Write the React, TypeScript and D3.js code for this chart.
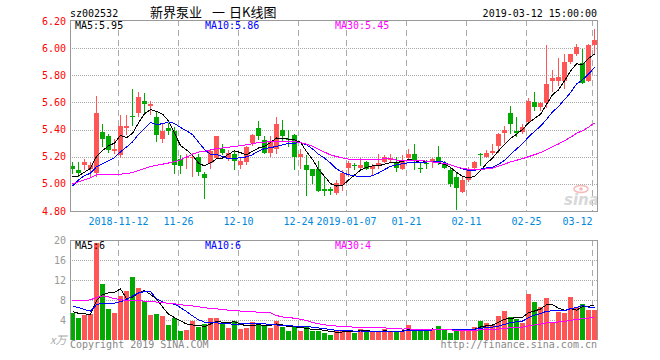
import React from "react";
import * as d3 from "d3";

// closes / volumes before the first visible day (only used to warm up the moving averages)
const warmupCloses = [4.65, 4.70, 4.75, 4.80, 5.25, 5.30, 5.32, 5.28, 5.30, 5.27, 5.20, 5.15, 5.12, 5.10, 5.15, 5.12, 4.85, 4.70, 4.60, 4.58, 4.62, 4.85, 4.95, 5.05, 5.10, 5.05, 5.02, 5.00, 5.08];
const warmupVolumes = [3.0, 3.2, 2.8, 3.5, 3.0, 12, 16, 15, 14, 16, 10, 9, 8, 8, 7, 9, 7, 7, 6, 7, 8, 9, 8, 7, 8, 6, 5.5, 6, 5.5];

const opens = [
  5.13, 5.10, 5.14, 5.11, 5.08, 5.38, 5.35, 5.24, 5.21, 5.41,
  5.50, 5.52, 5.61, 5.57, 5.49, 5.33, 5.41, 5.39, 5.18, 5.19,
  5.19, 5.20, 5.07, 5.15, 5.19, 5.26, 5.19, 5.22, 5.14, 5.16,
  5.30, 5.41, 5.32, 5.23, 5.26, 5.40, 5.33, 5.36, 5.20, 5.14,
  5.11, 5.11, 4.96, 4.96, 4.93, 4.99, 5.12, 5.14, 5.115, 5.16,
  5.11, 5.13, 5.16, 5.175, 5.155, 5.11, 5.19, 5.22, 5.12, 5.155,
  5.16, 5.20, 5.15, 5.10, 5.05, 4.94, 5.03, 5.12, 5.22, 5.20,
  5.23, 5.28, 5.375, 5.52, 5.39, 5.38, 5.455, 5.60, 5.565, 5.595,
  5.76, 5.76, 5.76, 5.90, 5.955, 5.89, 5.76, 6.02,
];
const highs = [
  5.16, 5.16, 5.18, 5.16, 5.65, 5.44, 5.37, 5.33, 5.51, 5.51,
  5.70, 5.68, 5.67, 5.61, 5.53, 5.44, 5.45, 5.42, 5.21, 5.22,
  5.23, 5.22, 5.09, 5.26, 5.35, 5.29, 5.25, 5.25, 5.19, 5.28,
  5.37, 5.46, 5.35, 5.35, 5.49, 5.47, 5.40, 5.37, 5.26, 5.21,
  5.11, 5.17, 5.05, 4.98, 5.03, 5.10, 5.17, 5.155, 5.19, 5.17,
  5.145, 5.22, 5.21, 5.22, 5.20, 5.21, 5.26, 5.29, 5.16, 5.175,
  5.19, 5.28, 5.17, 5.125, 5.08, 5.05, 5.125, 5.17, 5.225, 5.25,
  5.29, 5.375, 5.43, 5.57, 5.49, 5.44, 5.63, 5.68, 5.60, 6.025,
  5.84, 5.93, 5.96, 5.96, 6.034, 5.99, 6.03, 6.14,
];
const lows = [
  5.07, 5.05, 5.10, 5.05, 5.05, 5.27, 5.23, 5.22, 5.19, 5.36,
  5.43, 5.49, 5.52, 5.51, 5.31, 5.30, 5.36, 5.07, 5.07, 5.11,
  5.05, 5.06, 4.89, 5.11, 5.18, 5.21, 5.17, 5.10, 5.11, 5.14,
  5.28, 5.32, 5.22, 5.20, 5.22, 5.31, 5.27, 5.10, 5.11, 4.91,
  5.00, 4.94, 4.91, 4.92, 4.92, 4.95, 5.05, 5.10, 5.10, 5.10,
  5.06, 5.11, 5.15, 5.15, 5.09, 5.10, 5.17, 5.10, 5.08, 5.11,
  5.115, 5.14, 5.11, 4.98, 4.81, 4.93, 5.015, 5.11, 5.13, 5.19,
  5.21, 5.225, 5.30, 5.37, 5.345, 5.37, 5.44, 5.54, 5.54, 5.56,
  5.675, 5.72, 5.70, 5.88, 5.94, 5.735, 5.75, 5.95,
];
const closes = [
  5.11, 5.08, 5.16, 5.14, 5.52, 5.33, 5.25, 5.26, 5.43, 5.43,
  5.49, 5.64, 5.59, 5.59, 5.36, 5.39, 5.39, 5.14, 5.13, 5.20,
  5.20, 5.09, 5.04, 5.24, 5.35, 5.23, 5.23, 5.17, 5.17, 5.27,
  5.36, 5.35, 5.23, 5.31, 5.44, 5.35, 5.32, 5.20, 5.22, 5.10,
  5.06, 4.95, 4.95, 4.95, 5.01, 5.08, 5.15, 5.13, 5.14, 5.11,
  5.13, 5.15, 5.20, 5.19, 5.115, 5.17, 5.22, 5.17, 5.115, 5.15,
  5.18, 5.16, 5.115, 5.00, 4.97, 5.03, 5.11, 5.16, 5.215, 5.23,
  5.24, 5.37, 5.40, 5.44, 5.375, 5.42, 5.61, 5.565, 5.595, 5.735,
  5.78, 5.785, 5.90, 5.955, 6.005, 5.74, 6.02, 6.06,
];
const volumes = [
  5.33, 4.4, 5.0, 5.2, 19.5, 11.2, 6.2, 5.4, 8.8, 9.8,
  12.6, 10.4, 7.8, 5.0, 5.2, 4.8, 3.0, 4.4, 1.8, 2.0,
  3.8, 2.6, 3.2, 4.4, 4.4, 3.2, 2.4, 3.8, 2.2, 2.4,
  3.6, 3.4, 2.8, 2.4, 3.8, 2.6, 1.8, 2.6, 1.8, 2.6,
  1.8, 1.8, 1.4, 1.0, 1.8, 2.0, 2.0, 1.4, 2.2, 1.6,
  1.6, 1.6, 2.2, 1.6, 1.8, 1.8, 3.0, 2.2, 1.8, 1.8,
  2.2, 2.8, 2.2, 1.4, 2.2, 2.2, 2.2, 2.6, 3.8, 3.4,
  3.0, 4.8, 5.8, 4.6, 4.2, 3.4, 9.2, 7.6, 6.6, 8.4,
  3.6, 5.6, 5.4, 8.6, 6.6, 7.2, 6.0, 6.0,
];

const dateLabels = ["2018-11-12", "11-26", "12-10", "12-24", "2019-01-07", "01-21", "02-11", "02-25", "03-12"];
const dateIndex = [8, 18, 28, 38, 46, 56, 66, 76, 87];
const priceTicks = [6.2, 6.0, 5.8, 5.6, 5.4, 5.2, 5.0, 4.8];
const volumeTicks = [20, 16, 12, 8, 4];
const maPeriods = [5, 10, 30];
const priceMaLabels = ["MA5:5.95", "MA10:5.86", "MA30:5.45"];
const volumeMaLabels = ["MA5:6", "MA10:6", "MA30:4"];
const stockCode = "sz002532";
const titleParts = ["新界泵业", "一", "日K线图"];
const timestamp = "2019-03-12 15:00:00";
const footerLeft = "Copyright 2019 SINA.COM";
const footerRight = "http://finance.sina.com.cn";

const UP = "#ff5555";
const DOWN = "#00aa00";
const MA_COLORS = ["#000000", "#0000ff", "#ff00ff"];
const MONO = "'DejaVu Sans Mono', monospace";
const GRID = "#aaaaaa";

function movingAverage(warm: number[], vals: number[], p: number): number[] {
  const all = warm.concat(vals);
  const w0 = warm.length;
  return vals.map((_, i) => d3.mean(all.slice(w0 + i - p + 1, w0 + i + 1)) as number);
}

export default function App() {
  const W = 660, H = 360;
  const L = 70, R = 598;
  const pTop = 20, pBot = 211;
  const vTop = 240, vBot = 340;
  const n = closes.length;

  const x = d3.scaleLinear().domain([0, n]).range([L, R]);
  const yP = d3.scaleLinear().domain([4.8, 6.2]).range([211, 21]);
  const yV = d3.scaleLinear().domain([0, 20]).range([vBot, vTop]);

  const priceMAs = maPeriods.map((p) => movingAverage(warmupCloses, closes, p));
  const volMAs = maPeriods.map((p) => movingAverage(warmupVolumes, volumes, p));

  const linePrice = d3.line<number>().x((_, i) => x(i) + 2.5).y((d) => yP(d));
  const lineVol = d3.line<number>().x((_, i) => x(i) + 2.5).y((d) => yV(d));

  const snap = (v: number) => Math.round(v) + 0.5;

  return (
    <svg width={W} height={H} style={{ position: "absolute", left: 0, top: 0, background: "#fff" }}>
      {/* header */}
      <text x={70} y={17} fontFamily={MONO} fontSize={10} fill="#000">{stockCode}</text>
      <text x={150} y={17} fontFamily="'Noto Sans CJK SC', sans-serif" fontSize={13} fill="#000">{titleParts[0]}</text>
      <text x={212} y={17} fontFamily="'Noto Sans CJK SC', sans-serif" fontSize={13} fill="#000">{titleParts[1]}</text>
      <text x={229} y={17} fontFamily="'Noto Sans CJK SC', sans-serif" fontSize={13} fill="#000">{titleParts[2]}</text>
      <text x={597} y={17} textAnchor="end" fontFamily={MONO} fontSize={10} fill="#000">{timestamp}</text>

      {/* price grid */}
      <g shapeRendering="crispEdges">
        {priceTicks.slice(1, -1).map((t) => (
          <line key={"pg" + t} x1={L} x2={R} y1={snap(yP(t))} y2={snap(yP(t))} stroke={GRID} strokeDasharray="1,1" />
        ))}
        {dateIndex.map((k) => (
          <line key={"pv" + k} x1={x(k) + 0.5} x2={x(k) + 0.5} y1={pTop} y2={pBot} stroke={GRID} strokeDasharray="6,4" />
        ))}
        {volumeTicks.slice(1).map((t) => (
          <line key={"vg" + t} x1={L} x2={R} y1={yV(t) + 0.5} y2={yV(t) + 0.5} stroke={GRID} strokeDasharray="1,1" />
        ))}
        {dateIndex.map((k) => (
          <line key={"vv" + k} x1={x(k) + 0.5} x2={x(k) + 0.5} y1={vTop} y2={vBot} stroke={GRID} strokeDasharray="6,4" />
        ))}
      </g>

      {/* sina watermark */}
      <g opacity={0.9}>
        <ellipse cx={581} cy={189} rx={7} ry={3.5} fill="none" stroke="#f4b4b4" strokeWidth={1.5} />
        <circle cx={581} cy={189} r={1.8} fill="#f4b4b4" />
        <text x={564} y={205} fontFamily="'DejaVu Sans', sans-serif" fontStyle="italic" fontWeight="bold" fontSize={15} fill="#d4d4d4">sina</text>
      </g>

      {/* candles */}
      <g shapeRendering="crispEdges">
        {closes.map((c, i) => {
          const o = opens[i];
          const col = c >= o ? UP : DOWN;
          const top = Math.round(yP(Math.max(o, c)));
          const bot = Math.round(yP(Math.min(o, c)));
          return (
            <g key={"c" + i}>
              <rect x={x(i) + 2} y={Math.round(yP(highs[i]))} width={1} height={Math.max(1, Math.round(yP(lows[i])) - Math.round(yP(highs[i])))} fill={col} />
              <rect x={x(i)} y={top} width={5} height={Math.max(1, bot - top)} fill={col} />
            </g>
          );
        })}
      </g>

      {/* volume bars */}
      <g shapeRendering="crispEdges">
        {volumes.map((v, i) => (
          <rect key={"v" + i} x={x(i)} y={Math.round(yV(v))} width={5} height={vBot - Math.round(yV(v))} fill={closes[i] >= opens[i] ? UP : DOWN} />
        ))}
      </g>

      {/* moving averages */}
      <g fill="none" shapeRendering="crispEdges">
        {priceMAs.map((m, k) => (
          <path key={"pm" + k} d={linePrice(m) || ""} stroke={MA_COLORS[k]} strokeWidth={1} />
        ))}
        {volMAs.map((m, k) => (
          <path key={"vm" + k} d={lineVol(m) || ""} stroke={MA_COLORS[k]} strokeWidth={1} />
        ))}
      </g>

      {/* frames */}
      <g shapeRendering="crispEdges" stroke="#999999" fill="none">
        <path d={`M${L + 0.5},${pBot + 0.5}V${pTop + 0.5}H${R - 0.5}V${pBot + 0.5}H${L + 0.5}`} />
        <path d={`M${L + 0.5},${vBot}V${vTop + 0.5}H${R - 0.5}V${vBot}`} />
      </g>

      {/* MA labels */}
      {priceMaLabels.map((t, k) => (
        <text key={"pl" + k} x={[75, 205, 335][k]} y={29} fontFamily={MONO} fontSize={10} fill={MA_COLORS[k]}>{t}</text>
      ))}
      {volumeMaLabels.map((t, k) => (
        <text key={"vl" + k} x={[75, 205, 335][k]} y={249} fontFamily={MONO} fontSize={10} fill={MA_COLORS[k]}>{t}</text>
      ))}

      {/* y labels */}
      {priceTicks.map((t) => (
        <text key={"py" + t} x={66} y={yP(t) + 3.5} textAnchor="end" fontFamily={MONO} fontSize={10} fill="#ff0000">{t.toFixed(2)}</text>
      ))}
      {volumeTicks.map((t) => (
        <text key={"vy" + t} x={66} y={yV(t) + 3.5} textAnchor="end" fontFamily={MONO} fontSize={10} fill="#999999">{t}</text>
      ))}
      <text x={50} y={344} fontFamily="'Noto Sans CJK SC', sans-serif" fontStyle="italic" fontSize={11} fill="#aaaaaa">x万</text>

      {/* date labels */}
      {dateIndex.map((k, j) => {
        const cx = x(k) + 0.5;
        const half = dateLabels[j].length * 3;
        const overflow = cx + half > R;
        return (
          <text key={"d" + k} x={cx} y={225} textAnchor={overflow ? "end" : "middle"} fontFamily={MONO} fontSize={10} fill="#0088dd">{dateLabels[j]}</text>
        );
      })}

      {/* footer */}
      <text x={70} y={348} fontFamily={MONO} fontSize={10} fill="#888888">{footerLeft}</text>
      <text x={597} y={348} textAnchor="end" fontFamily={MONO} fontSize={10} fill="#888888">{footerRight}</text>
    </svg>
  );
}
